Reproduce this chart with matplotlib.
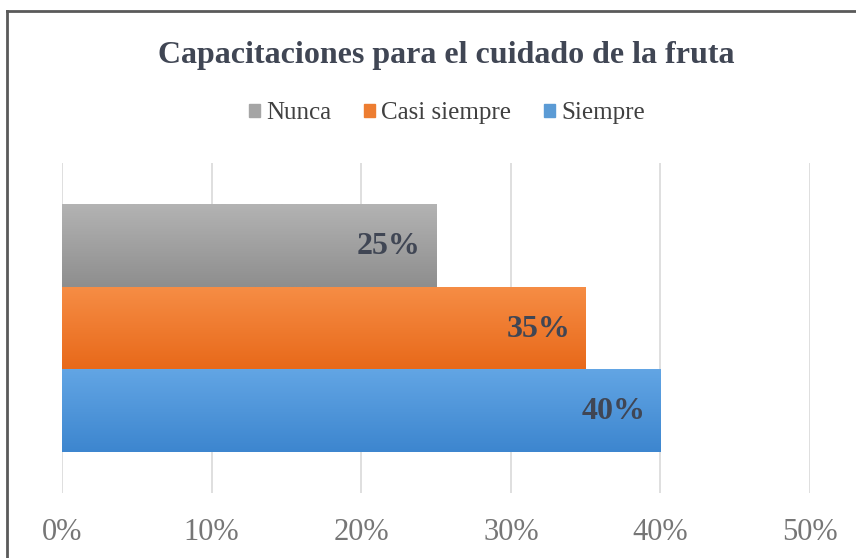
import numpy as np
import matplotlib.pyplot as plt
from matplotlib.lines import Line2D
from matplotlib.colors import LinearSegmentedColormap

categories = ["Nunca", "Casi siempre", "Siempre"]
values = [0.25, 0.35, 0.40]
labels = ["25%", "35%", "40%"]
ticks = [0, 0.1, 0.2, 0.3, 0.4, 0.5]
tick_labels = ["0%", "10%", "20%", "30%", "40%", "50%"]

base_colors = ["#a5a5a5", "#ed7d31", "#5b9bd5"]
grad = [("#b3b3b3", "#8e8e8e"), ("#f68d45", "#e8691a"), ("#62a5e4", "#3d86cf")]
text_dark = "#404654"

plt.rcParams['font.family'] = ['Liberation Serif', 'DejaVu Serif']

fig = plt.figure(figsize=(8.56, 5.58), dpi=100)
ax = fig.add_axes([0.0724, 0.1165, 0.874, 0.5914])

ypos = [2, 1, 0]
bars = ax.barh(ypos, values, height=1.0, color=base_colors, zorder=2)

# vertical gradient on each bar, clipped to bar
for b, (top, bot) in zip(bars, grad):
    cmap = LinearSegmentedColormap.from_list("g", [bot, top])
    x0, y0 = b.get_x(), b.get_y()
    w, h = b.get_width(), b.get_height()
    im = ax.imshow(np.linspace(0, 1, 64).reshape(-1, 1), cmap=cmap, aspect='auto',
                   origin='lower', extent=[x0, x0 + w, y0, y0 + h], zorder=3)
    im.set_clip_path(b)

for b, lab in zip(bars, labels):
    ax.annotate(lab, (b.get_width(), b.get_y() + b.get_height() / 2),
                xytext=(-11, -1), textcoords='offset points', ha='right', va='center',
                fontsize=23, fontweight='bold', color=text_dark, zorder=4)

ax.set_xlim(0, 0.5)
ax.set_ylim(-1, 3)
ax.set_xticks(ticks)
ax.set_xticklabels(tick_labels, fontsize=22, color="#767676")
ax.set_yticks([])
ax.tick_params(axis='x', length=0, pad=18)
ax.grid(axis='x', color="#d9d9d9", linewidth=1.2, zorder=0)
ax.set_axisbelow(True)
for s in ax.spines.values():
    s.set_visible(False)

fig.text(0.521, 0.9, "Capacitaciones para el cuidado de la fruta", ha='center', va='center',
         fontsize=23, fontweight='bold', color=text_dark)

handles = [plt.Rectangle((0, 0), 1, 1, color=c) for c in base_colors]
fig.legend(handles, categories, loc='center', bbox_to_anchor=(0.522, 0.797), ncol=3,
           frameon=False, fontsize=18, handlelength=0.45, handleheight=0.45,
           handletextpad=0.25, columnspacing=1.3, labelcolor="#404040")

# chart frame (left and top edges visible)
fig.add_artist(Line2D([0.0082, 0.0082], [0, 0.98], transform=fig.transFigure, color="#5a5a5a", linewidth=2))
fig.add_artist(Line2D([0.0082, 1.0], [0.98, 0.98], transform=fig.transFigure, color="#5a5a5a", linewidth=2))

fig.savefig("out.png", dpi=100)
